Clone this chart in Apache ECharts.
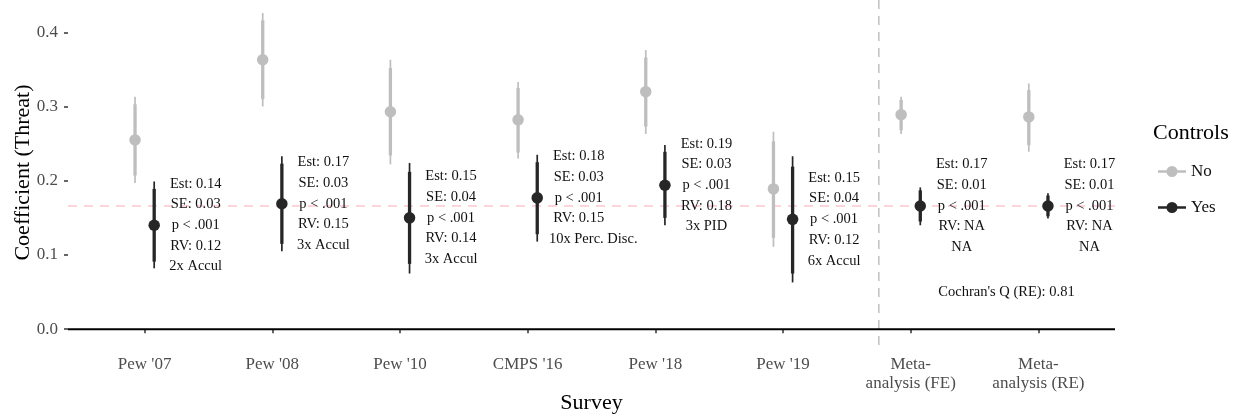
<!DOCTYPE html>
<html>
<head>
<meta charset="utf-8">
<script src="https://cdn.jsdelivr.net/npm/echarts@6/dist/echarts.min.js"></script>
<style>
html,body{margin:0;padding:0;background:#fff;}
#chart{width:1235px;height:420px;}
</style>
</head>
<body>
<div id="chart"></div>
<script>
// ---------- data ----------
const surveys = ["Pew '07", "Pew '08", "Pew '10", "CMPS '16", "Pew '18", "Pew '19", "Meta-\nanalysis (FE)", "Meta-\nanalysis (RE)"];

// Controls = No
const noEst  = [0.255, 0.363, 0.293, 0.282, 0.320, 0.189, 0.289, 0.286];
const noLo95 = [0.197, 0.300, 0.222, 0.230, 0.263, 0.111, 0.263, 0.239];
const noHi95 = [0.313, 0.426, 0.363, 0.333, 0.376, 0.266, 0.313, 0.331];
const noLo90 = [0.207, 0.310, 0.234, 0.238, 0.273, 0.123, 0.268, 0.248];
const noHi90 = [0.303, 0.416, 0.352, 0.325, 0.366, 0.253, 0.309, 0.322];

// Controls = Yes
const yesEst  = [0.140, 0.169, 0.150, 0.177, 0.194, 0.148, 0.166, 0.166];
const yesLo95 = [0.082, 0.105, 0.075, 0.118, 0.140, 0.063, 0.140, 0.149];
const yesHi95 = [0.199, 0.233, 0.224, 0.235, 0.248, 0.233, 0.191, 0.183];
const yesLo90 = [0.091, 0.115, 0.088, 0.128, 0.150, 0.075, 0.145, 0.152];
const yesHi90 = [0.189, 0.223, 0.212, 0.225, 0.239, 0.219, 0.187, 0.180];

// annotation texts (Yes estimates)
const annEst  = ["Est: 0.14", "Est: 0.17", "Est: 0.15", "Est: 0.18", "Est: 0.19", "Est: 0.15", "Est: 0.17", "Est: 0.17"];
const annSE   = ["SE: 0.03", "SE: 0.03", "SE: 0.04", "SE: 0.03", "SE: 0.03", "SE: 0.04", "SE: 0.01", "SE: 0.01"];
const annP    = ["p < .001", "p < .001", "p < .001", "p < .001", "p < .001", "p < .001", "p < .001", "p < .001"];
const annRV   = ["RV: 0.12", "RV: 0.15", "RV: 0.14", "RV: 0.15", "RV: 0.18", "RV: 0.12", "RV: NA", "RV: NA"];
const annCtrl = ["2x Accul", "3x Accul", "3x Accul", "        10x Perc. Disc.", "3x PID", "6x Accul", "NA", "NA"];

const pooledEst = 0.166;
const separatorX = 6.75;
const cochranText = "Cochran's Q (RE): 0.81";
const cochranPos = [7.75, 0.05];

const yTicks = [0, 0.1, 0.2, 0.3, 0.4];
const xTicks = [1, 2, 3, 4, 5, 6, 7, 8];
const X_MIN = 0.4, X_MAX = 8.6, Y_MIN = -0.0213, Y_MAX = 0.4435;

// ---------- styling ----------
const FONT = "'Liberation Serif', 'DejaVu Serif', serif";
const COL_NO = '#bebebe';
const COL_YES = '#262626';
const DODGE = 0.075;
const LABEL_SHIFT = 0.4;

function intervalData(lo95, hi95, lo90, hi90, off) {
  return lo95.map((v, i) => [i + 1 + off, lo95[i], hi95[i], lo90[i], hi90[i]]);
}
function pointData(est, off) {
  return est.map((e, i) => [i + 1 + off, e]);
}
function renderInterval(color) {
  return function (params, api) {
    const x = api.value(0);
    const a = api.coord([x, api.value(1)]);
    const b = api.coord([x, api.value(2)]);
    const c = api.coord([x, api.value(3)]);
    const d = api.coord([x, api.value(4)]);
    return {
      type: 'group',
      children: [
        { type: 'line', shape: { x1: a[0], y1: a[1], x2: b[0], y2: b[1] },
          style: { stroke: color, lineWidth: 1.7 } },
        { type: 'line', shape: { x1: c[0], y1: c[1], x2: d[0], y2: d[1] },
          style: { stroke: color, lineWidth: 3.3 } }
      ]
    };
  };
}
function renderText(fontSize, lineHeight) {
  return function (params, api) {
    const p = api.coord([api.value(0), api.value(1)]);
    const item = params.dataIndexInside;
    const txt = params.seriesName === 'cochran' ? cochranText : annotationTexts[item];
    return {
      type: 'text', x: p[0], y: p[1], silent: true,
      style: {
        text: txt, fill: '#111',
        font: fontSize + 'px ' + FONT,
        lineHeight: lineHeight,
        align: 'center', verticalAlign: 'middle'
      }
    };
  };
}

const annotationTexts = yesEst.map((e, i) => [annEst[i], annSE[i], annP[i], annRV[i], annCtrl[i]].join('\n'));
const annPositions = yesEst.map((e, i) => [i + 1 + LABEL_SHIFT, e]);

const legendIcon = 'path://M0 8.8 H28 V11.2 H0 Z M19.5 10 A5.5 5.5 0 1 1 8.5 10 A5.5 5.5 0 1 1 19.5 10 Z';

const refLine = (data, color, type, width, z) => ({
  type: 'line', data: data, z: z, silent: true, symbol: 'none',
  lineStyle: { color: color, width: width, type: type },
  clip: true, legendHoverLink: false
});

const chart = echarts.init(document.getElementById('chart'), null, { renderer: 'canvas' });

const option = {
  animation: false,
  backgroundColor: '#ffffff',
  textStyle: { fontFamily: FONT },
  title: {
    text: 'Controls',
    left: 1148, top: 117,
    textStyle: { fontFamily: FONT, fontSize: 22, fontWeight: 'normal', color: '#000' }
  },
  legend: {
    data: ['No', 'Yes'],
    orient: 'vertical',
    left: 1153, top: 158,
    itemWidth: 28, itemHeight: 20, itemGap: 19,
    icon: legendIcon,
    textStyle: { fontFamily: FONT, fontSize: 17, color: '#111' },
    selectedMode: false
  },
  grid: { left: 68, right: 120, top: 0, bottom: 75, containLabel: false, outerBoundsMode: 'none' },
  xAxis: {
    type: 'value',
    min: X_MIN, max: X_MAX,
    name: 'Survey',
    nameLocation: 'middle',
    nameGap: 47,
    nameMoveOverlap: false,
    nameTextStyle: { fontFamily: FONT, fontSize: 22, color: '#000' },
    axisLine: { show: false },
    splitLine: { show: false },
    axisTick: { show: true, customValues: xTicks, length: 4, lineStyle: { color: '#333', width: 1.5 } },
    axisLabel: {
      customValues: xTicks,
      margin: 10,
      fontFamily: FONT, fontSize: 17, color: '#4d4d4d', lineHeight: 19,
      formatter: v => surveys[Math.round(v) - 1]
    }
  },
  yAxis: {
    type: 'value',
    min: Y_MIN, max: Y_MAX,
    name: 'Coefficient (Threat)',
    nameLocation: 'middle',
    nameGap: 34,
    nameMoveOverlap: false,
    nameTextStyle: { fontFamily: FONT, fontSize: 22, color: '#000' },
    axisLine: { show: false },
    splitLine: { show: false },
    axisTick: { show: true, customValues: yTicks, length: 4, lineStyle: { color: '#333', width: 1.5 } },
    axisLabel: {
      customValues: yTicks,
      margin: 10,
      fontFamily: FONT, fontSize: 17, color: '#4d4d4d',
      formatter: v => v.toFixed(1)
    }
  },
  series: [
    refLine([[X_MIN, pooledEst], [X_MAX, pooledEst]], '#f9c9d1', [9, 7], 1.6, 1),
    refLine([[separatorX, Y_MIN], [separatorX, Y_MAX]], '#c4c4c4', [9, 7], 1.6, 1),
    refLine([[X_MIN, 0], [X_MAX, 0]], '#000000', 'solid', 2, 1),
    {
      type: 'custom', name: 'noCI', z: 2, silent: true,
      renderItem: renderInterval(COL_NO),
      data: intervalData(noLo95, noHi95, noLo90, noHi90, -DODGE)
    },
    {
      type: 'custom', name: 'yesCI', z: 2, silent: true,
      renderItem: renderInterval(COL_YES),
      data: intervalData(yesLo95, yesHi95, yesLo90, yesHi90, DODGE)
    },
    {
      type: 'scatter', name: 'No', z: 3, symbol: 'circle', symbolSize: 11.5,
      itemStyle: { color: COL_NO, opacity: 1 },
      data: pointData(noEst, -DODGE)
    },
    {
      type: 'scatter', name: 'Yes', z: 3, symbol: 'circle', symbolSize: 11.5,
      itemStyle: { color: COL_YES, opacity: 1 },
      data: pointData(yesEst, DODGE)
    },
    {
      type: 'custom', name: 'annotations', z: 4, silent: true,
      renderItem: renderText(14.5, 20.7),
      data: annPositions
    },
    {
      type: 'custom', name: 'cochran', z: 4, silent: true,
      renderItem: renderText(14.5, 18),
      data: [cochranPos]
    }
  ]
};
chart.setOption(option);
</script>
</body>
</html>
